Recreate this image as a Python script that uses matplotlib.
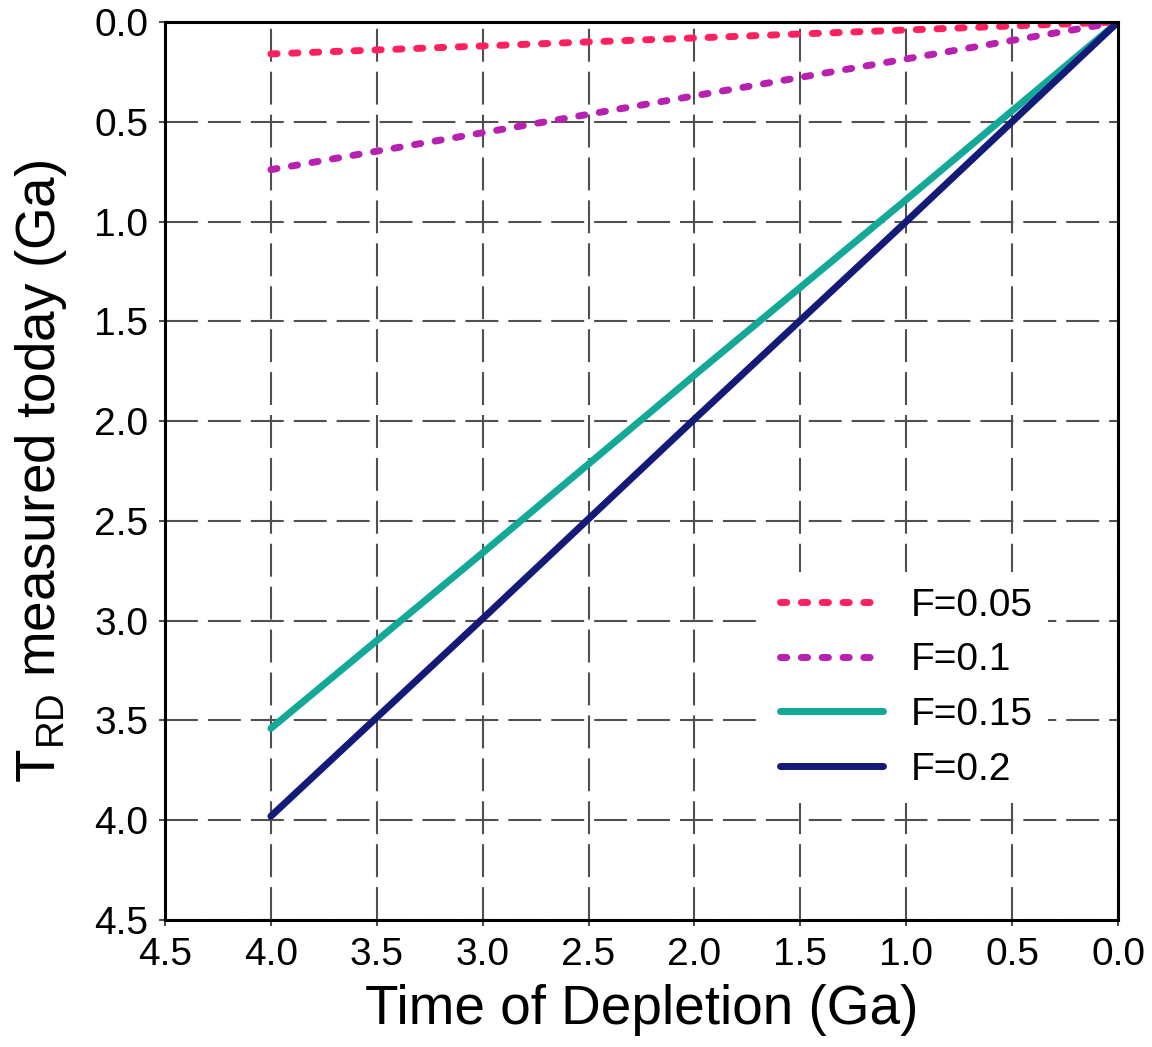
import matplotlib
matplotlib.use("Agg")
import matplotlib.pyplot as plt

plt.rcParams['font.family'] = ['Liberation Sans', 'DejaVu Sans']
plt.rcParams['mathtext.fontset'] = 'custom'
plt.rcParams['mathtext.rm'] = 'Liberation Sans'

depletion_time = [4.0, 3.0, 2.0, 1.0, 0.0]
series_labels = ["F=0.05", "F=0.1", "F=0.15", "F=0.2"]
trd_f005 = [0.16, 0.12, 0.08, 0.04, 0.0]
trd_f010 = [0.74, 0.555, 0.37, 0.185, 0.0]
trd_f015 = [3.54, 2.66, 1.77, 0.89, 0.0]
trd_f020 = [3.98, 2.99, 1.99, 1.0, 0.0]
ticks = [4.5, 4.0, 3.5, 3.0, 2.5, 2.0, 1.5, 1.0, 0.5, 0.0]

fig = plt.figure(figsize=(11.52, 10.47), dpi=100)
ax = fig.add_axes([0.1432, 0.1213, 0.9705 - 0.1432, 0.979 - 0.1213])

colors = ['#FF2060', '#B820B0', '#14A898', '#141A78']
data = [trd_f005, trd_f010, trd_f015, trd_f020]
for i, (lab, ys) in enumerate(zip(series_labels, data)):
    if i < 2:
        ax.plot(depletion_time, ys, color=colors[i], lw=5, label=lab,
                dashes=(0.9, 2.1), dash_capstyle='round', solid_capstyle='round')
    else:
        ax.plot(depletion_time, ys, color=colors[i], lw=5, label=lab,
                solid_capstyle='round')

ax.set_xlim(4.5, 0.0)
ax.set_ylim(4.5, 0.0)
ax.set_xticks(ticks)
ax.set_yticks(ticks)
ax.set_xticklabels([f"{t:.1f}" for t in ticks])
ax.set_yticklabels([f"{t:.1f}" for t in ticks])

ax.grid(True, color='#505050', lw=1.5, dashes=(15.8, 4.8))
ax.set_axisbelow(True)
ax.tick_params(axis='both', direction='out', length=4, width=1.5, color='#505050',
               labelsize=28, pad=8)
for s in ax.spines.values():
    s.set_linewidth(2.2)
    s.set_color('black')

ax.set_xlabel("Time of Depletion (Ga)", fontsize=39.5, labelpad=8)
ax.set_ylabel(r"T$_{\mathrm{RD}}$ measured today (Ga)", fontsize=39.5, labelpad=18)

leg = ax.legend(loc='lower right', bbox_to_anchor=(0.9266, 0.130), borderaxespad=0,
                frameon=True, fancybox=False, facecolor='white', edgecolor='none',
                framealpha=1, fontsize=28, handlelength=2.65, handletextpad=0.7,
                labelspacing=0.48, borderpad=0.4)

fig.savefig("out.png", dpi=100)
